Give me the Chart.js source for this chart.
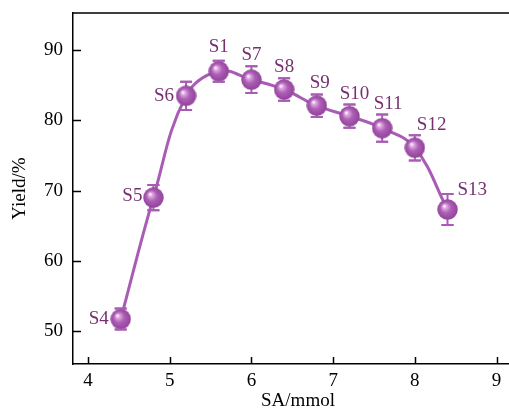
<!DOCTYPE html>
<html>
<head>
<meta charset="utf-8">
<script src="https://cdn.jsdelivr.net/npm/chart.js@4/dist/chart.umd.min.js"></script>
<style>
html,body{margin:0;padding:0;background:#fff;overflow:hidden;}
#wrap{position:relative;width:530px;height:412px;}
</style>
</head>
<body>
<div id="wrap"><canvas id="c" width="530" height="412"></canvas></div>
<script>
// ---- data ----
const sampleNames = ['S4','S5','S6','S1','S7','S8','S9','S10','S11','S12','S13'];
const saAmount   = [4.4, 4.8, 5.2, 5.6, 6.0, 6.4, 6.8, 7.2, 7.6, 8.0, 8.4];
const yieldPct   = [51.7, 69.0, 83.5, 87.0, 85.8, 84.4, 82.1, 80.6, 78.9, 76.1, 67.3];
const yieldErr   = [1.5, 1.8, 2.0, 1.5, 1.9, 1.6, 1.6, 1.65, 1.95, 1.8, 2.2];
const xTicks = [4, 5, 6, 7, 8, 9];
const yTicks = [50, 60, 70, 80, 90];

// ---- style ----
const FONT = '"Liberation Serif", "Times New Roman", serif';
const LINE = '#A85CB4';
const LABEL = '#76306F';
// label placement relative to each marker: [dx, dy, align]
const labelPlace = [
  [-12, 0, 'right'], [-11, -2, 'right'], [-12, 0, 'right'],
  [0, -24, 'center'], [0, -25, 'center'], [0, -23, 'center'],
  [3, -23, 'center'], [5, -22, 'center'], [6, -24, 'center'],
  [2, -23, 'left'], [10, -20, 'left']
];

function makeSphere(d) {
  const c = document.createElement('canvas');
  c.width = d; c.height = d;
  const g = c.getContext('2d');
  const r = d / 2;
  const grad = g.createRadialGradient(r * 0.68, r * 0.66, 0.5, r, r, r);
  grad.addColorStop(0, '#FDF3FD');
  grad.addColorStop(0.16, '#DDA8E0');
  grad.addColorStop(0.48, '#AE5FB6');
  grad.addColorStop(1, '#8E4297');
  g.fillStyle = grad;
  g.beginPath(); g.arc(r, r, r - 0.3, 0, Math.PI * 2); g.fill();
  return c;
}
const sphere = makeSphere(21);

function capPath(ctx, px, top, bot) {
  ctx.moveTo(px - 6, top); ctx.lineTo(px + 6, top);
  ctx.moveTo(px - 6, bot); ctx.lineTo(px + 6, bot);
}

const errorBars = {
  id: 'errorBars',
  beforeDatasetsDraw(chart) {
    const ctx = chart.ctx, xs = chart.scales.x, ys = chart.scales.y;
    ctx.save();
    ctx.strokeStyle = LINE; ctx.lineWidth = 2;
    saAmount.forEach((x, i) => {
      const px = xs.getPixelForValue(x);
      const top = ys.getPixelForValue(yieldPct[i] + yieldErr[i]);
      const bot = ys.getPixelForValue(yieldPct[i] - yieldErr[i]);
      ctx.beginPath();
      ctx.moveTo(px, top); ctx.lineTo(px, bot);
      capPath(ctx, px, top, bot);
      ctx.stroke();
    });
    ctx.restore();
  },
  afterDatasetsDraw(chart) {
    const ctx = chart.ctx, xs = chart.scales.x, ys = chart.scales.y;
    ctx.save();
    ctx.strokeStyle = LINE; ctx.lineWidth = 2;
    saAmount.forEach((x, i) => {
      const px = xs.getPixelForValue(x);
      const top = ys.getPixelForValue(yieldPct[i] + yieldErr[i]);
      const bot = ys.getPixelForValue(yieldPct[i] - yieldErr[i]);
      ctx.beginPath();
      capPath(ctx, px, top, bot);
      ctx.stroke();
    });
    ctx.fillStyle = LABEL;
    ctx.font = '19px ' + FONT;
    ctx.textBaseline = 'middle';
    saAmount.forEach((x, i) => {
      const px = xs.getPixelForValue(x);
      const py = ys.getPixelForValue(yieldPct[i]);
      const p = labelPlace[i];
      ctx.textAlign = p[2];
      ctx.fillText(sampleNames[i], px + p[0], py + p[1]);
    });
    ctx.restore();
  },
  afterDraw(chart) {
    const ctx = chart.ctx, a = chart.chartArea, xs = chart.scales.x, ys = chart.scales.y;
    ctx.save();
    ctx.strokeStyle = '#000'; ctx.lineWidth = 1.5;
    ctx.beginPath();
    ctx.moveTo(a.left, a.top); ctx.lineTo(a.right + 20, a.top);
    xTicks.forEach(v => { const px = Math.round(xs.getPixelForValue(v)) + 0.5; ctx.moveTo(px, a.bottom); ctx.lineTo(px, a.bottom - 7); });
    yTicks.forEach(v => { const py = Math.round(ys.getPixelForValue(v)) + 0.5; ctx.moveTo(a.left, py); ctx.lineTo(a.left + 8, py); });
    ctx.stroke();
    ctx.restore();
  }
};

new Chart(document.getElementById('c'), {
  type: 'line',
  data: {
    datasets: [{
      data: saAmount.map((x, i) => ({ x: x, y: yieldPct[i] })),
      borderColor: LINE,
      borderWidth: 3,
      tension: 0.4,
      pointStyle: sphere,
      pointRadius: 10,
      pointHoverRadius: 10,
      fill: false
    }]
  },
  options: {
    responsive: false,
    animation: false,
    events: [],
    layout: { autoPadding: false, padding: { top: 13, right: 7, left: 0, bottom: 0 } },
    plugins: { legend: { display: false }, tooltip: { enabled: false } },
    scales: {
      x: {
        type: 'linear', min: 3.816, max: 9.324,
        afterBuildTicks: s => { s.ticks = xTicks.map(v => ({ value: v })); },
        afterFit: s => { s.height = 48; s.paddingLeft = 0; s.paddingRight = 0; },
        grid: { display: false, drawTicks: false },
        border: { display: true, color: '#000', width: 1.5 },
        ticks: { color: '#000', font: { family: FONT, size: 19 }, padding: 6, maxRotation: 0 },
        title: { display: true, text: 'SA/mmol', color: '#000', font: { family: FONT, size: 19 }, padding: { top: 4, bottom: 0 } }
      },
      y: {
        type: 'linear', min: 45.3, max: 95.3,
        afterBuildTicks: s => { s.ticks = yTicks.map(v => ({ value: v })); },
        afterFit: s => { s.width = 73; s.paddingTop = 0; s.paddingBottom = 0; },
        grid: { display: false, drawTicks: false },
        border: { display: true, color: '#000', width: 1.5 },
        ticks: { color: '#000', font: { family: FONT, size: 19 }, padding: 10 },
        title: { display: true, text: 'Yield/%', color: '#000', font: { family: FONT, size: 19 }, padding: { top: 9, bottom: 4 } }
      }
    }
  },
  plugins: [errorBars]
});
</script>
</body>
</html>
